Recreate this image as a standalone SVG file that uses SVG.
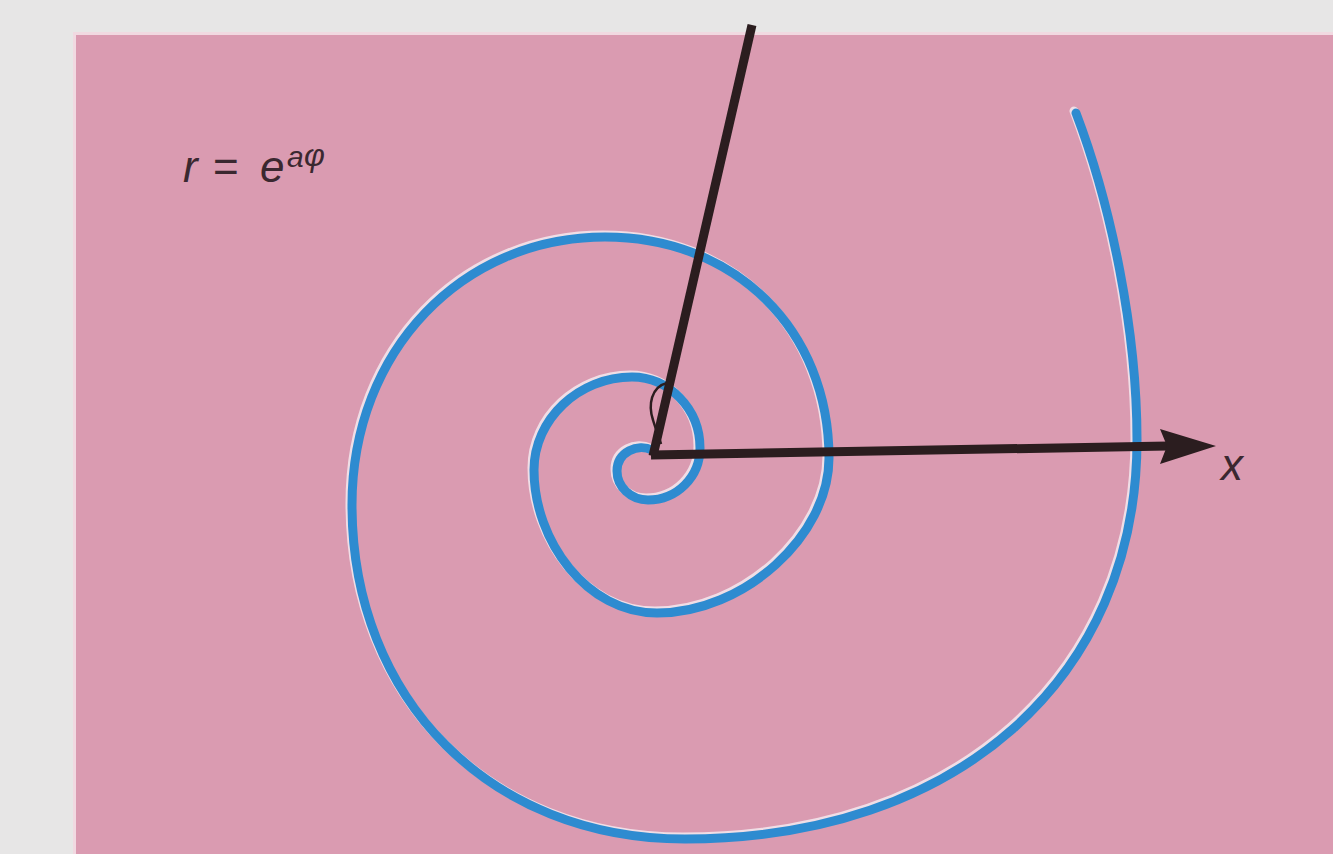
<svg xmlns="http://www.w3.org/2000/svg" xmlns:xlink="http://www.w3.org/1999/xlink" width="1333" height="854" viewBox="0 0 1333 854">
  <style>
    .spiral { fill: none; stroke: #2e8bd0; stroke-width: 9; stroke-linecap: round; stroke-linejoin: round; }
    .halo { fill: none; stroke: #f3eaf0; stroke-width: 9; stroke-linecap: round; opacity: 0.85; }
    .axis { stroke: #2b1d1f; stroke-width: 9; stroke-linecap: butt; fill: none; }
    .arc { stroke: #2b1d1f; stroke-width: 2.5; fill: none; }
    .lbl { font-family: "Liberation Sans", Arial, sans-serif; fill: #3a2830; font-style: italic; }
  </style>
  <defs>
    <path id="spiralPath" d="M652,450 C638,443 617,452 617,471 C617,487 631,500 648,500 C677,500 700,477 700,448 C700,409 669,377 632,377 C579,377 534,419 534,470 C534,541 587,613 657,613 C744,613 829,536 829,458 C829,330 735,237 605,237 C463,237 352,350 352,505 C352,699 490,839 685,839 C956,839 1137,679 1137,440 C1137,330 1111,205 1076,113"/>
  </defs>

  <g id="background">
    <rect x="0" y="0" width="1333" height="854" fill="#e7e6e6"/>
    <rect x="73" y="32" width="1260" height="822" fill="#f1d9e1"/>
    <rect x="76" y="35" width="1257" height="819" fill="#da9bb1"/>
  </g>

  <g id="spiral">
    <use xlink:href="#spiralPath" href="#spiralPath" class="halo" transform="translate(-2,-2)"/>
    <use xlink:href="#spiralPath" href="#spiralPath" class="spiral"/>
  </g>

  <g id="connectors">
    <line class="axis" x1="653" y1="456" x2="752" y2="25"/>
    <line class="axis" x1="651" y1="455" x2="1168" y2="446"/>
    <polygon points="1216,446 1160,429 1167,446 1160,464" fill="#2b1d1f"/>
    <path class="arc" d="M667,383 C651,387 648,405 653,420 C656,430 659,437 661,444"/>
  </g>

  <g id="label-formula">
    <text class="lbl" y="182" font-size="44"><tspan x="183">r</tspan><tspan x="213" font-style="normal">=</tspan><tspan x="260">e</tspan></text>
    <text class="lbl" x="287" y="167" font-size="30">a</text>
    <text class="lbl" x="304" y="166" font-size="32" font-style="normal">φ</text>
  </g>

  <g id="label-x">
    <text class="lbl" x="1221" y="480" font-size="44">x</text>
  </g>
</svg>
